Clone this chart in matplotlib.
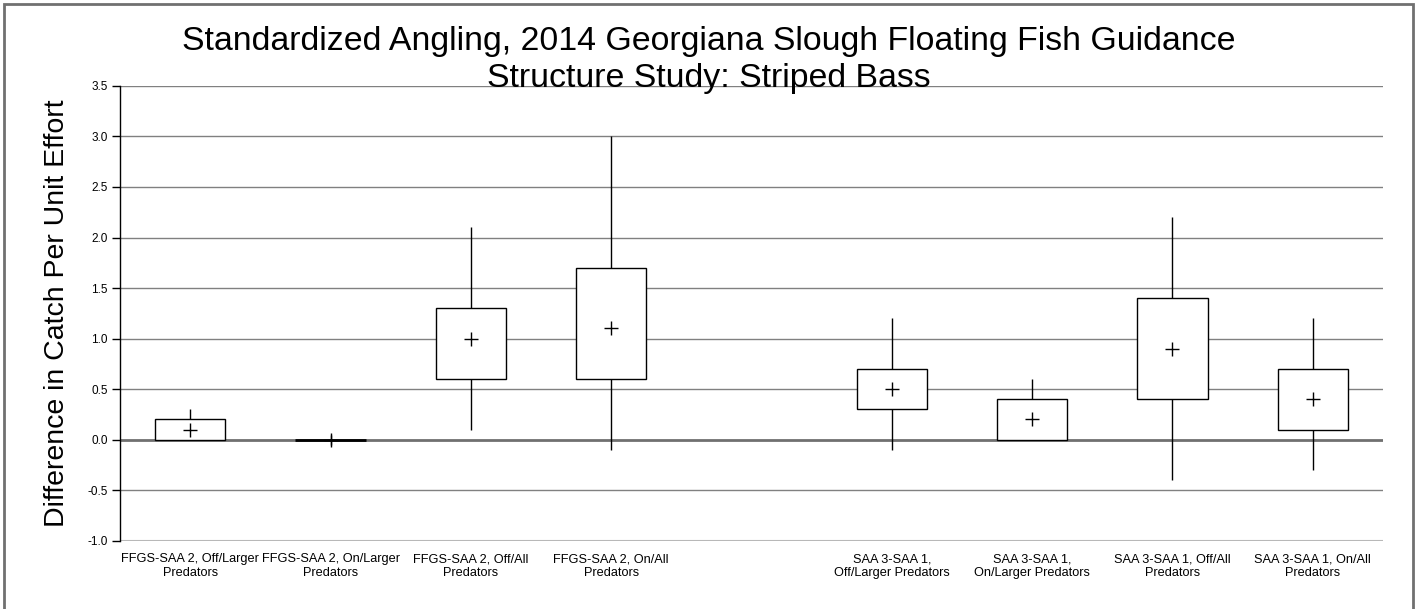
import numpy as np
import matplotlib.pyplot as plt
from matplotlib.patches import Rectangle

plt.rcParams['font.family'] = ['Liberation Sans', 'DejaVu Sans']

# slot positions (slot 5 left empty as a gap)
positions = [1, 2, 3, 4, 6, 7, 8, 9]
labels = ["FFGS-SAA 2, Off/Larger\nPredators",
          "FFGS-SAA 2, On/Larger\nPredators",
          "FFGS-SAA 2, Off/All\nPredators",
          "FFGS-SAA 2, On/All\nPredators",
          "SAA 3-SAA 1,\nOff/Larger Predators",
          "SAA 3-SAA 1,\nOn/Larger Predators",
          "SAA 3-SAA 1, Off/All\nPredators",
          "SAA 3-SAA 1, On/All\nPredators"]
whisker_lo = [0.0, -0.05, 0.1, -0.1, -0.1, 0.0, -0.4, -0.3]
q1 = [0.0, 0.0, 0.6, 0.6, 0.3, 0.0, 0.4, 0.1]
q3 = [0.2, 0.0, 1.3, 1.7, 0.7, 0.4, 1.4, 0.7]
whisker_hi = [0.3, 0.05, 2.1, 3.0, 1.2, 0.6, 2.2, 1.2]
means = [0.1, 0.0, 1.0, 1.1, 0.5, 0.2, 0.9, 0.4]

fig = plt.figure(figsize=(14.17, 6.09), dpi=100)
ax = fig.add_axes([0.0847, 0.112, 0.8913, 0.747])

# gridlines
for y in np.arange(-0.5, 3.51, 0.5):
    if abs(y) < 1e-9:
        continue
    ax.axhline(y, color='#808080', lw=1.0, zorder=1)
ax.axhline(0, color='#707070', lw=2.0, zorder=1)
ax.axhline(-1.0, color='#b8b8b8', lw=1.5, zorder=1)

# whiskers
ax.vlines(positions, whisker_lo, q1, color='black', lw=1.0, zorder=2)
ax.vlines(positions, q3, whisker_hi, color='black', lw=1.0, zorder=2)

# boxes
for x, lo, hi in zip(positions, q1, q3):
    h = hi - lo
    ax.add_patch(Rectangle((x - 0.25, lo), 0.5, h, facecolor='white',
                           edgecolor='black', lw=2.0 if h == 0 else 1.0, zorder=3))

# means
ax.plot(positions, means, linestyle='none', marker='+', color='black',
        markersize=10, markeredgewidth=1.0, zorder=4)

ax.set_xlim(0.5, 9.5)
ax.set_ylim(-1.0, 3.5)
ax.set_yticks(np.arange(-1.0, 3.51, 0.5))
ax.set_yticklabels([f"{v:.1f}" for v in np.arange(-1.0, 3.51, 0.5)], fontsize=8.5)
ax.set_xticks(positions)
ax.set_xticklabels(labels, fontsize=9.2)
ax.tick_params(axis='x', length=0, pad=9)
ax.tick_params(axis='y', length=6, width=1, direction='out', pad=3)

for s in ['top', 'right', 'bottom']:
    ax.spines[s].set_visible(False)
ax.spines['left'].set_linewidth(1.0)

ax.set_ylabel("Difference in Catch Per Unit Effort", fontsize=20.5, labelpad=12)
fig.text(0.5, 0.902, "Standardized Angling, 2014 Georgiana Slough Floating Fish Guidance\nStructure Study: Striped Bass",
         ha='center', va='center', fontsize=24.4, linespacing=1.24)

# outer frame
fig.patches.append(Rectangle((0.003, -0.01), 0.994, 1.003, transform=fig.transFigure,
                             fill=False, edgecolor='#707070', lw=2))

fig.savefig("out.png", dpi=100)
